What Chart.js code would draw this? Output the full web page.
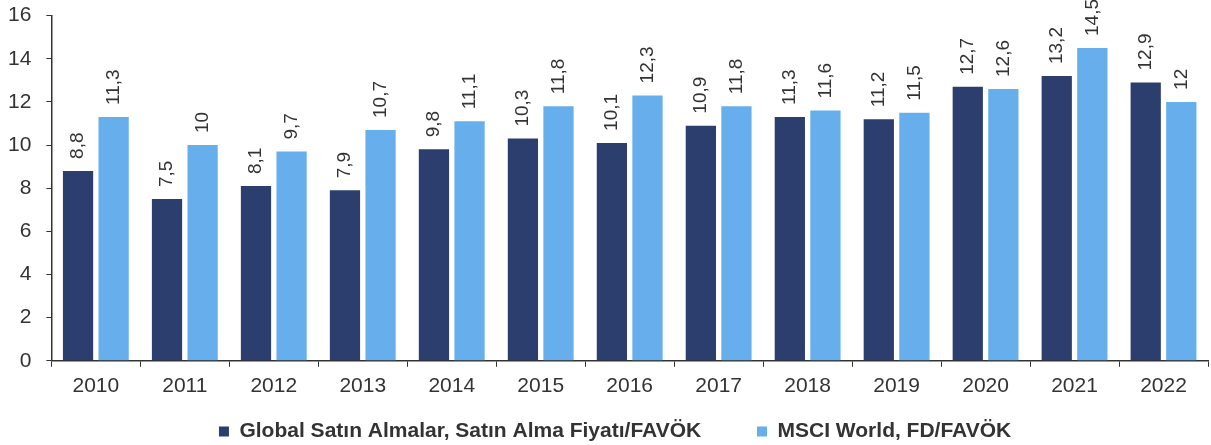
<!DOCTYPE html>
<html lang="tr">
<head>
    <meta charset="UTF-8">
    <title>Satın Alma Fiyatı/FAVÖK</title>
    <script src="https://cdn.jsdelivr.net/npm/chart.js"></script>
    <style>
        html, body { margin: 0; padding: 0; background: #fff; overflow: hidden; }
        #frame { width: 1211px; height: 445px; position: relative; overflow: hidden; }
        #wrap { width: 1211px; height: 457px; position: absolute; left: 0; top: -12px; }
    </style>
</head>
<body>
    <div id="frame"><div id="wrap"><canvas id="myChart"></canvas></div></div>

    <script>
        // Years and the two series
        const years = ['2010', '2011', '2012', '2013', '2014', '2015', '2016', '2017', '2018', '2019', '2020', '2021', '2022'];
        const globalMA = [8.8, 7.5, 8.1, 7.9, 9.8, 10.3, 10.1, 10.9, 11.3, 11.2, 12.7, 13.2, 12.9];
        const msciWorld = [11.3, 10, 9.7, 10.7, 11.1, 11.8, 12.3, 11.8, 11.6, 11.5, 12.6, 14.5, 12];
        const seriesNames = ['Global Satın Almalar, Satın Alma Fiyatı/FAVÖK', 'MSCI World, FD/FAVÖK'];
        const yTicks = [0, 2, 4, 6, 8, 10, 12, 14, 16];

        const fmt = v => String(v).replace('.', ',');
        const FONT = '"Liberation Sans", Arial, sans-serif';

        // vertical value labels above each bar
        const valueLabels = {
            id: 'valueLabels',
            afterDatasetsDraw(chart) {
                const ctx = chart.ctx;
                ctx.save();
                ctx.font = '19px ' + FONT;
                ctx.fillStyle = '#333';
                ctx.textAlign = 'left';
                ctx.textBaseline = 'middle';
                chart.data.datasets.forEach((ds, i) => {
                    chart.getDatasetMeta(i).data.forEach((bar, j) => {
                        ctx.save();
                        ctx.translate(bar.x, bar.y - 12);
                        ctx.rotate(-Math.PI / 2);
                        ctx.fillText(fmt(ds.data[j]), 0, 0);
                        ctx.restore();
                    });
                });
                ctx.restore();
            }
        };

        const ctx = document.getElementById('myChart').getContext('2d');
        new Chart(ctx, {
            type: 'bar',
            data: {
                labels: years,
                datasets: [
                    { label: seriesNames[0], data: globalMA, backgroundColor: '#2b3e6e' },
                    { label: seriesNames[1], data: msciWorld, backgroundColor: '#67aeec' }
                ]
            },
            options: {
                responsive: true,
                maintainAspectRatio: false,
                animation: false,
                categoryPercentage: 0.8,
                barPercentage: 0.85,
                layout: { padding: { top: 0, right: 3, left: -7, bottom: -7 } },
                plugins: {
                    tooltip: { enabled: false },
                    legend: {
                        position: 'bottom',
                        fullSize: false,
                        labels: {
                            color: '#333',
                            font: { family: FONT, size: 21, weight: 'bold' },
                            boxWidth: 10,
                            boxHeight: 10,
                            padding: 15,
                            // extra room between / around the two legend entries
                            generateLabels: chart => {
                                const items = Chart.defaults.plugins.legend.labels.generateLabels(chart);
                                items[0].text += '       ';
                                items[1].text += '     ';
                                return items;
                            }
                        }
                    }
                },
                scales: {
                    x: {
                        grid: { drawOnChartArea: false, drawTicks: true, tickLength: 6, color: '#333' },
                        border: { color: '#333', width: 1.5 },
                        ticks: {
                            color: '#333',
                            padding: 7,
                            font: { family: FONT, size: 21 }
                        }
                    },
                    y: {
                        min: 0,
                        max: 16,
                        afterBuildTicks: axis => { axis.ticks = yTicks.map(v => ({ value: v })); },
                        grid: { drawOnChartArea: false, drawTicks: true, tickLength: 5, color: '#333' },
                        border: { color: '#333', width: 1.5 },
                        ticks: {
                            color: '#333',
                            padding: 15,
                            font: { family: FONT, size: 21 }
                        }
                    }
                }
            },
            plugins: [valueLabels]
        });
    </script>
</body>
</html>
